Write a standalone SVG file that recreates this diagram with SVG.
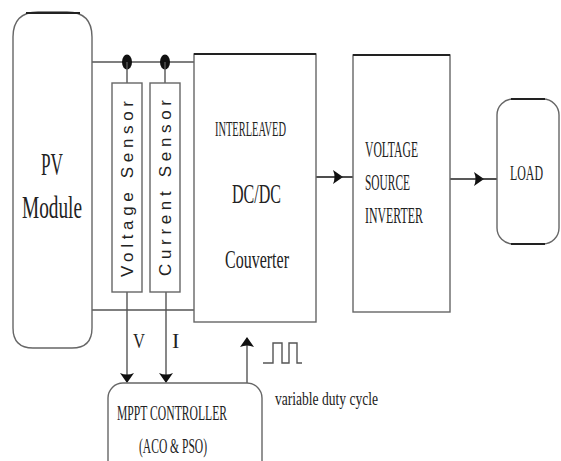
<svg xmlns="http://www.w3.org/2000/svg" width="561" height="461" viewBox="0 0 561 461">
<defs>
<marker id="ah" markerWidth="10" markerHeight="14" refX="9" refY="7" orient="auto" markerUnits="userSpaceOnUse">
<path d="M0,0 L10,7 L0,14 Q3,7 0,0 Z" fill="#111"/>
</marker>
</defs>
<style>
.box{fill:#fff;stroke:#666;stroke-width:1.4}
.top{stroke:#222;stroke-width:2}
.w{fill:none;stroke:#555;stroke-width:1.4}
.arr{fill:none;stroke:#222;stroke-width:1.6}
.s{font-family:"Liberation Serif",serif;fill:#222}
.ss{font-family:"Liberation Sans",Arial,sans-serif;fill:#222}
</style>
<rect width="561" height="461" fill="#fff"/>
<g id="connectors">
<path class="w" d="M92,62 H195"/>
<path class="w" d="M92,310 H195"/>
<ellipse cx="127" cy="62" rx="5" ry="7.5" fill="#111"/>
<ellipse cx="165" cy="62" rx="5" ry="7.5" fill="#111"/>
<path class="w" d="M127,62 V83 M165,62 V83"/>
<path class="w" d="M127,292 V382" marker-end="url(#ah)"/>
<path class="w" d="M166,292 V382" marker-end="url(#ah)"/>
<path class="w" d="M247,383 V338" marker-end="url(#ah)"/>
<path class="arr" d="M316,177 H342" marker-end="url(#ah)"/>
<path class="arr" d="M340,177 H353"/>
<path class="arr" d="M450,179 H483" marker-end="url(#ah)"/>
<path class="arr" d="M481,179 H497"/>
<path class="w" d="M263,363 H273 V343 H282 V363 H289 V343 H297 V363 H302"/>
</g>
<g id="pv">
<path class="box" d="M38,12 H67 Q92,12 92,37 V328 Q92,348 72,348 H33 Q13,348 13,328 V37 Q13,12 38,12 Z"/>
<path class="top" d="M26,13 H80" fill="none"/>
<text class="s" x="52" y="175" font-size="31" text-anchor="middle" textLength="22" lengthAdjust="spacingAndGlyphs">PV</text>
<text class="s" x="52" y="218" font-size="31" text-anchor="middle" textLength="60" lengthAdjust="spacingAndGlyphs">Module</text>
</g>
<g id="voltage-sensor">
<rect class="box" x="112" y="83" width="30" height="209"/>
<text class="ss" transform="translate(133,189) rotate(-90)" font-size="17" text-anchor="middle" textLength="176" lengthAdjust="spacing">Voltage Sensor</text>
</g>
<g id="current-sensor">
<rect class="box" x="150" y="83" width="30" height="209"/>
<text class="ss" transform="translate(171,188) rotate(-90)" font-size="17" text-anchor="middle" textLength="176" lengthAdjust="spacing">Current Sensor</text>
</g>
<g id="converter">
<rect class="box" x="194" y="54" width="122" height="268"/>
<path class="top" d="M194,54 H316" fill="none"/>
<text class="s" x="215" y="136" font-size="20" textLength="71" lengthAdjust="spacingAndGlyphs">INTERLEAVED</text>
<text class="s" x="232" y="203" font-size="27" textLength="49" lengthAdjust="spacingAndGlyphs">DC/DC</text>
<text class="s" x="225" y="268" font-size="25" textLength="64" lengthAdjust="spacingAndGlyphs">Couverter</text>
</g>
<g id="inverter">
<rect class="box" x="353" y="55" width="97" height="257"/>
<path class="top" d="M353,55 H450" fill="none"/>
<text class="s" x="365" y="157" font-size="24" textLength="53" lengthAdjust="spacingAndGlyphs">VOLTAGE</text>
<text class="s" x="365" y="190" font-size="24" textLength="45" lengthAdjust="spacingAndGlyphs">SOURCE</text>
<text class="s" x="365" y="223" font-size="24" textLength="58" lengthAdjust="spacingAndGlyphs">INVERTER</text>
</g>
<g id="load">
<rect class="box" x="497" y="99" width="62" height="145" rx="16" ry="16"/>
<path class="top" d="M511,99 H545 M511,244 H545" fill="none"/>
<text class="s" transform="translate(510,180) scale(0.54,1)" font-size="22">LOAD</text>
</g>
<g id="mppt">
<rect class="box" x="108" y="383" width="154" height="100" rx="15" ry="15"/>
<text class="s" x="117" y="420" font-size="20" textLength="110" lengthAdjust="spacingAndGlyphs">MPPT CONTROLLER</text>
<text class="s" x="139" y="453" font-size="20" textLength="68" lengthAdjust="spacingAndGlyphs">(ACO &amp; PSO)</text>
</g>
<g id="labels">
<text class="s" x="133" y="348" font-size="22" textLength="12" lengthAdjust="spacingAndGlyphs">V</text>
<text class="s" x="172" y="348" font-size="22">I</text>
<text class="s" x="275" y="405" font-size="18" textLength="103" lengthAdjust="spacingAndGlyphs">variable duty cycle</text>
</g>
</svg>
